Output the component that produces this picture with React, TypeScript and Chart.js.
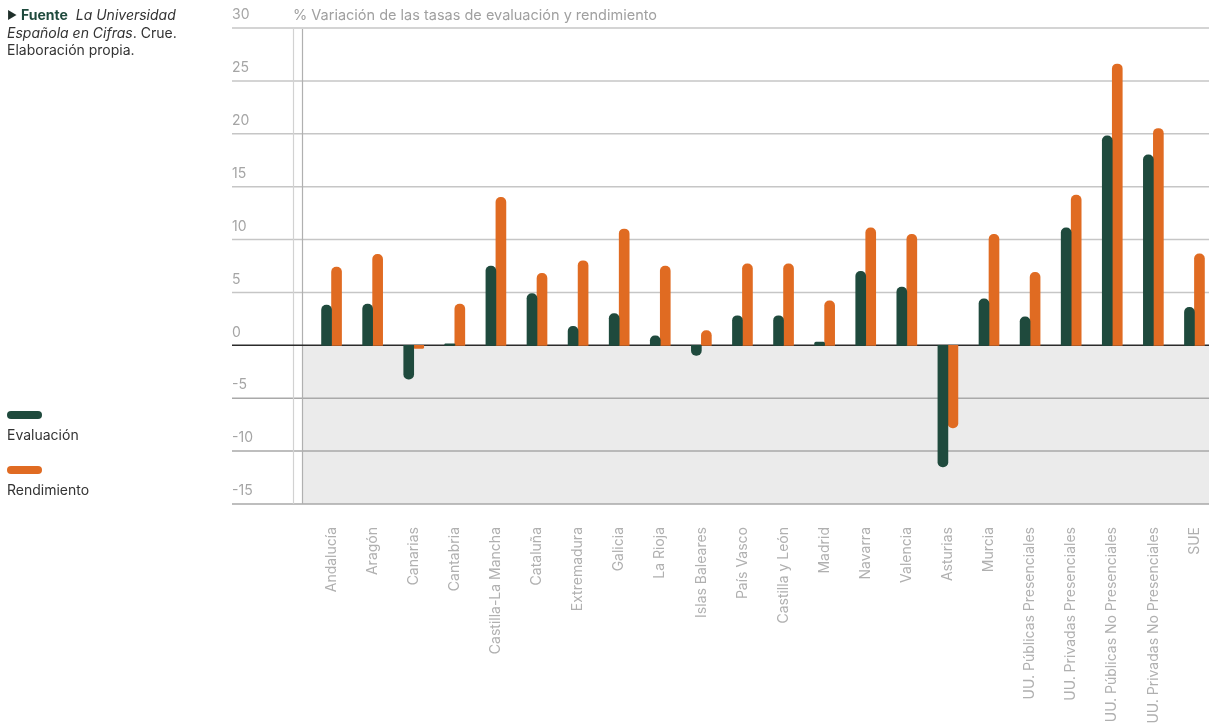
import React, { useEffect, useRef } from 'react';
import { Chart, registerables } from 'chart.js';

Chart.register(...registerables);

const categories = [
  'Andalucía', 'Aragón', 'Canarias', 'Cantabria', 'Castilla-La Mancha', 'Cataluña',
  'Extremadura', 'Galicia', 'La Rioja', 'Islas Baleares', 'País Vasco', 'Castilla y León',
  'Madrid', 'Navarra', 'Valencia', 'Asturias', 'Murcia', 'UU. Públicas Presenciales',
  'UU. Privadas Presenciales', 'UU. Públicas No Presenciales', 'UU. Privadas No Presenciales', 'SUE',
];
const evaluacion = [3.8, 3.9, -3.2, 0.15, 7.5, 4.9, 1.8, 3.0, 0.9, -0.95, 2.8, 2.8, 0.3, 7.0, 5.5, -11.5, 4.4, 2.7, 11.1, 19.8, 18.0, 3.6];
const rendimiento = [7.4, 8.6, -0.3, 3.9, 14.0, 6.8, 8.0, 11.0, 7.5, 1.4, 7.7, 7.7, 4.2, 11.1, 10.5, -7.8, 10.5, 6.9, 14.2, 26.6, 20.5, 8.65];
const seriesNames = ['Evaluación', 'Rendimiento'];
const yMin = -15;
const yMax = 30;
const yStep = 5;
const chartTitle = '% Variación de las tasas de evaluación y rendimiento';

const GREEN = '#1f4a3d';
const ORANGE = '#e06b22';

const bgPlugin = {
  id: 'bgPlugin',
  beforeDatasetsDraw(chart: any) {
    const { ctx, chartArea, scales } = chart;
    const y = scales.y;
    const left = chartArea.left;
    const right = chartArea.right;
    const y0 = y.getPixelForValue(0);
    const yb = y.getPixelForValue(yMin);
    const yt = y.getPixelForValue(yMax);
    ctx.save();
    ctx.fillStyle = '#ebebeb';
    ctx.fillRect(left - 8.5, y0, right - left + 8.5, yb - y0);
    y.ticks.forEach((t: any) => {
      if (t.value === 0) return;
      const py = y.getPixelForValue(t.value);
      ctx.strokeStyle = t.value < 0 ? '#a9a9a9' : '#c6c6c6';
      ctx.lineWidth = 1.5;
      ctx.beginPath();
      ctx.moveTo(232, py);
      ctx.lineTo(right, py);
      ctx.stroke();
    });
    ctx.lineWidth = 1.2;
    ctx.strokeStyle = '#d2d2d2';
    ctx.beginPath();
    ctx.moveTo(left - 17.5, yt + 1);
    ctx.lineTo(left - 17.5, yb);
    ctx.stroke();
    ctx.strokeStyle = '#b0b0b0';
    ctx.beginPath();
    ctx.moveTo(left - 8.5, yt + 1);
    ctx.lineTo(left - 8.5, yb);
    ctx.stroke();
    ctx.strokeStyle = '#2b2b2b';
    ctx.lineWidth = 1.5;
    ctx.beginPath();
    ctx.moveTo(232, y0);
    ctx.lineTo(right, y0);
    ctx.stroke();
    ctx.restore();
  },
};

export default function App() {
  const canvasRef = useRef<HTMLCanvasElement>(null);

  useEffect(() => {
    document.body.style.margin = '0';
    Chart.defaults.font.family = 'Inter, "Noto Sans", sans-serif';
    const chart = new Chart(canvasRef.current as HTMLCanvasElement, {
      type: 'bar',
      data: {
        labels: categories,
        datasets: [
          {
            label: seriesNames[0],
            data: evaluacion,
            backgroundColor: GREEN,
            barThickness: 10,
            borderRadius: 5,
            borderSkipped: 'start',
          },
          {
            label: seriesNames[1],
            data: rendimiento,
            backgroundColor: ORANGE,
            barThickness: 10,
            borderRadius: 5,
            borderSkipped: 'start',
          },
        ],
      },
      options: {
        animation: false,
        responsive: false,
        devicePixelRatio: 1,
        layout: { padding: { left: 232, top: 28, right: 0, bottom: 0 } },
        plugins: {
          legend: { display: false },
          tooltip: { enabled: false },
          title: { display: false },
        },
        scales: {
          x: {
            grid: { display: false, drawTicks: false },
            border: { display: false },
            ticks: {
              autoSkip: false,
              minRotation: 90,
              maxRotation: 90,
              padding: 23,
              color: '#b0b0b0',
              font: { size: 14 },
            },
            afterFit: (scale: any) => {
              scale.height = 222;
              scale.paddingLeft = 0;
              scale.paddingRight = 0;
            },
          },
          y: {
            min: yMin,
            max: yMax,
            grid: { display: false, drawTicks: false },
            border: { display: false },
            ticks: {
              stepSize: yStep,
              crossAlign: 'far',
              labelOffset: -13,
              padding: 0,
              color: '#a5a5a5',
              font: { size: 14 },
            },
            afterFit: (scale: any) => {
              scale.width = 79;
              scale.paddingTop = 0;
              scale.paddingBottom = 0;
            },
          },
        },
      },
      plugins: [bgPlugin],
    });
    return () => chart.destroy();
  }, []);

  const textStyle: React.CSSProperties = {
    fontFamily: 'Inter, "Noto Sans", sans-serif',
    color: '#333',
    fontSize: 14,
  };

  return (
    <div style={{ position: 'relative', width: 1209, height: 726, overflow: 'hidden', background: '#fff' }}>
      <canvas ref={canvasRef} width={1215} height={726} style={{ position: 'absolute', left: 0, top: 0 }} />
      <div style={{ ...textStyle, position: 'absolute', left: 7, top: 6, width: 200, lineHeight: '17px' }}>
        <span style={{ fontSize: 11, color: '#1f2f2a', verticalAlign: 1 }}>▶</span>{' '}
        <b style={{ color: GREEN }}>Fuente</b>&nbsp;&nbsp;<i>La Universidad</i>
        <br />
        <i>Española en Cifras</i>. Crue.
        <br />
        Elaboración propia.
      </div>
      <div style={{ ...textStyle, position: 'absolute', left: 293, top: 6, fontSize: 14.5, color: '#a0a0a0', whiteSpace: 'nowrap' }}>
        {chartTitle}
      </div>
      <div style={{ position: 'absolute', left: 7, top: 411, width: 35, height: 8, borderRadius: 4, background: GREEN }} />
      <div style={{ ...textStyle, position: 'absolute', left: 7, top: 426 }}>{seriesNames[0]}</div>
      <div style={{ position: 'absolute', left: 7, top: 466, width: 35, height: 8, borderRadius: 4, background: ORANGE }} />
      <div style={{ ...textStyle, position: 'absolute', left: 7, top: 481 }}>{seriesNames[1]}</div>
    </div>
  );
}
